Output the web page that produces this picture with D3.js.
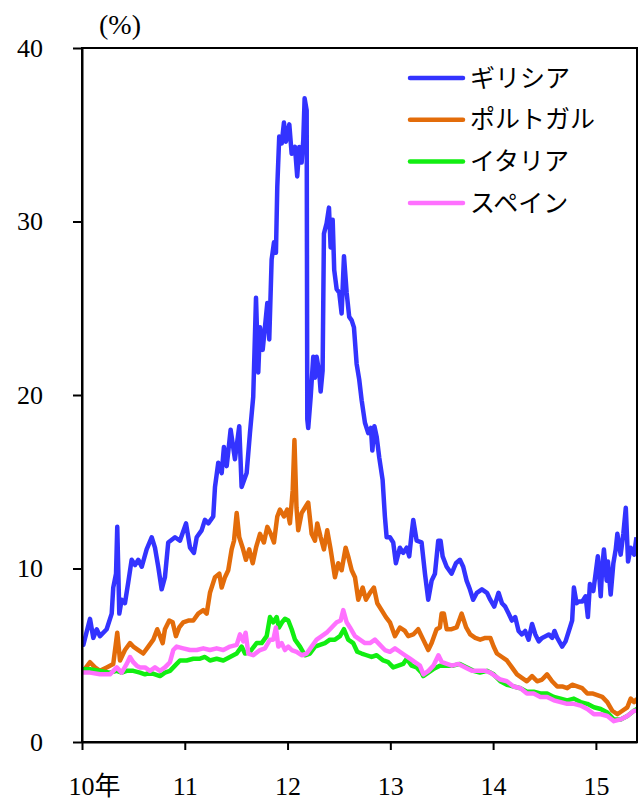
<!DOCTYPE html>
<html>
<head>
<meta charset="utf-8">
<script src="https://cdn.jsdelivr.net/npm/d3@7"></script>
<style>
  body { margin: 0; background: #fff; }
  text { font-family: "Liberation Serif", "Noto Sans CJK JP", serif; fill: #000; }
</style>
</head>
<body>
<div id="chart"></div>
<script>
// 10年国債利回り (%), decimal year / yield
const greece = [[2010.0,5.6],[2010.013,5.6],[2010.078,7.1],[2010.11,6.0],[2010.143,6.5],[2010.175,6.1],[2010.24,6.5],[2010.289,7.4],[2010.304,8.9],[2010.331,9.7],[2010.343,12.4],[2010.363,7.4],[2010.386,8.2],[2010.418,8.0],[2010.45,9.2],[2010.483,10.5],[2010.516,10.2],[2010.548,10.5],[2010.581,10.1],[2010.629,11.1],[2010.678,11.8],[2010.71,11.2],[2010.742,10.1],[2010.775,8.8],[2010.807,9.5],[2010.839,11.5],[2010.905,11.8],[2010.953,11.6],[2011.012,12.6],[2011.051,11.2],[2011.089,10.9],[2011.116,11.8],[2011.164,12.2],[2011.196,12.8],[2011.229,12.6],[2011.277,13.0],[2011.294,14.7],[2011.326,16.1],[2011.359,15.5],[2011.381,17.0],[2011.408,15.9],[2011.446,18.0],[2011.488,16.3],[2011.53,18.2],[2011.553,14.7],[2011.602,15.5],[2011.634,17.8],[2011.666,19.9],[2011.693,25.6],[2011.715,21.3],[2011.732,23.9],[2011.758,22.6],[2011.78,23.9],[2011.803,25.3],[2011.822,23.2],[2011.845,27.8],[2011.868,28.8],[2011.887,28.2],[2011.9,32.0],[2011.919,34.9],[2011.943,34.5],[2011.965,35.7],[2011.984,34.6],[2012.017,35.6],[2012.04,33.9],[2012.072,34.3],[2012.094,32.6],[2012.114,34.3],[2012.137,33.4],[2012.153,34.7],[2012.166,37.1],[2012.186,36.4],[2012.192,18.6],[2012.201,18.1],[2012.225,19.9],[2012.25,22.2],[2012.267,21.0],[2012.283,22.2],[2012.308,21.3],[2012.322,20.2],[2012.341,21.4],[2012.354,29.3],[2012.38,29.9],[2012.403,30.8],[2012.419,28.5],[2012.439,30.1],[2012.454,27.2],[2012.478,26.1],[2012.503,25.9],[2012.526,24.7],[2012.549,28.0],[2012.575,25.9],[2012.6,24.5],[2012.624,24.3],[2012.646,23.9],[2012.672,21.8],[2012.697,20.9],[2012.721,19.7],[2012.753,18.4],[2012.785,17.8],[2012.811,18.1],[2012.825,16.8],[2012.845,18.2],[2012.867,17.6],[2012.892,16.4],[2012.925,15.1],[2012.947,13.0],[2012.964,11.8],[2012.996,11.8],[2013.028,11.5],[2013.054,10.3],[2013.093,11.2],[2013.125,10.9],[2013.159,11.2],[2013.184,10.7],[2013.207,12.0],[2013.223,12.8],[2013.256,11.6],[2013.304,11.5],[2013.337,9.7],[2013.369,8.2],[2013.402,9.3],[2013.434,9.7],[2013.466,11.6],[2013.489,11.6],[2013.509,10.7],[2013.548,10.1],[2013.596,9.7],[2013.638,10.3],[2013.677,10.5],[2013.709,10.1],[2013.742,9.3],[2013.774,8.8],[2013.806,8.2],[2013.842,8.6],[2013.891,8.8],[2013.94,8.6],[2013.972,8.2],[2014.011,7.8],[2014.053,8.6],[2014.086,8.0],[2014.118,7.8],[2014.151,7.4],[2014.183,7.0],[2014.215,7.2],[2014.248,6.4],[2014.28,6.2],[2014.312,6.4],[2014.345,5.9],[2014.379,6.8],[2014.411,6.2],[2014.444,5.8],[2014.477,6.0],[2014.51,6.1],[2014.542,6.2],[2014.575,6.0],[2014.597,6.4],[2014.624,6.0],[2014.672,5.5],[2014.705,5.8],[2014.737,6.4],[2014.769,7.0],[2014.786,8.9],[2014.812,8.0],[2014.835,8.1],[2014.868,8.1],[2014.9,8.4],[2014.922,7.2],[2014.942,9.1],[2014.975,8.7],[2014.997,9.7],[2015.019,10.7],[2015.047,8.4],[2015.062,10.1],[2015.078,11.1],[2015.105,9.3],[2015.117,10.4],[2015.144,8.5],[2015.17,10.3],[2015.193,11.1],[2015.209,12.0],[2015.241,10.8],[2015.267,12.0],[2015.291,13.5],[2015.313,10.4],[2015.339,11.2],[2015.372,10.8],[2015.395,11.8]]

const portugal = [[2010.0,4.1],[2010.013,4.1],[2010.078,4.6],[2010.126,4.3],[2010.175,4.1],[2010.24,4.3],[2010.304,4.5],[2010.343,6.3],[2010.37,4.7],[2010.418,5.3],[2010.467,5.7],[2010.499,5.5],[2010.548,5.3],[2010.596,5.1],[2010.645,5.5],[2010.694,5.9],[2010.732,6.5],[2010.759,6.1],[2010.785,5.7],[2010.807,6.5],[2010.849,7.0],[2010.882,6.9],[2010.914,6.1],[2010.946,6.6],[2010.985,6.9],[2011.034,7.0],[2011.083,7.0],[2011.131,7.4],[2011.18,7.6],[2011.213,7.4],[2011.245,8.6],[2011.294,9.5],[2011.336,9.7],[2011.359,8.9],[2011.391,9.5],[2011.423,9.9],[2011.456,11.1],[2011.479,11.6],[2011.505,13.2],[2011.53,11.8],[2011.563,11.2],[2011.595,10.5],[2011.627,11.1],[2011.661,10.3],[2011.693,11.2],[2011.732,12.0],[2011.77,11.5],[2011.803,12.4],[2011.836,12.0],[2011.868,11.5],[2011.9,13.0],[2011.926,13.4],[2011.965,13.0],[2011.997,13.4],[2012.023,12.6],[2012.05,14.5],[2012.067,17.4],[2012.087,13.5],[2012.104,12.2],[2012.137,13.2],[2012.169,13.5],[2012.201,13.8],[2012.234,12.0],[2012.267,11.6],[2012.289,12.6],[2012.322,11.8],[2012.354,11.1],[2012.386,12.2],[2012.419,11.1],[2012.461,9.5],[2012.493,10.3],[2012.526,9.9],[2012.565,11.2],[2012.59,10.7],[2012.624,9.9],[2012.656,9.5],[2012.688,8.2],[2012.731,8.9],[2012.763,8.2],[2012.802,8.6],[2012.84,8.9],[2012.873,8.0],[2012.915,7.6],[2012.957,7.2],[2012.996,6.9],[2013.045,6.1],[2013.093,6.6],[2013.142,6.4],[2013.174,6.1],[2013.223,6.2],[2013.271,6.5],[2013.32,5.9],[2013.369,5.3],[2013.402,5.7],[2013.45,6.5],[2013.482,6.6],[2013.499,7.4],[2013.521,7.4],[2013.548,6.5],[2013.596,6.5],[2013.645,6.6],[2013.694,7.4],[2013.738,6.6],[2013.777,6.2],[2013.826,6.0],[2013.874,5.9],[2013.924,6.0],[2013.973,6.0],[2014.005,5.5],[2014.037,5.1],[2014.086,4.9],[2014.134,4.7],[2014.183,4.3],[2014.232,3.9],[2014.28,3.7],[2014.329,3.5],[2014.379,3.8],[2014.428,3.5],[2014.477,3.6],[2014.525,3.9],[2014.574,3.5],[2014.624,3.2],[2014.672,3.2],[2014.721,3.1],[2014.769,3.3],[2014.818,3.2],[2014.867,3.1],[2014.916,2.8],[2014.965,2.8],[2015.014,2.7],[2015.062,2.6],[2015.111,2.3],[2015.16,1.8],[2015.209,1.6],[2015.258,1.8],[2015.306,2.0],[2015.339,2.5],[2015.372,2.3],[2015.4,2.5]]

const italy = [[2010.0,4.2],[2010.078,4.2],[2010.175,4.1],[2010.272,4.0],[2010.338,4.1],[2010.386,4.0],[2010.435,4.1],[2010.499,4.1],[2010.564,4.0],[2010.613,3.9],[2010.661,4.0],[2010.71,3.9],[2010.759,3.8],[2010.807,4.0],[2010.856,4.1],[2010.905,4.4],[2010.953,4.7],[2011.018,4.7],[2011.083,4.8],[2011.148,4.8],[2011.196,4.9],[2011.245,4.7],[2011.31,4.8],[2011.375,4.7],[2011.44,4.9],[2011.505,5.1],[2011.553,5.5],[2011.586,5.1],[2011.634,5.2],[2011.699,5.7],[2011.748,5.7],[2011.797,6.1],[2011.829,7.2],[2011.861,6.9],[2011.894,7.2],[2011.916,6.6],[2011.946,6.9],[2011.975,7.1],[2012.007,7.0],[2012.04,6.5],[2012.072,5.9],[2012.121,5.5],[2012.169,5.0],[2012.218,5.1],[2012.267,5.5],[2012.315,5.6],[2012.364,5.7],[2012.412,5.9],[2012.461,5.9],[2012.51,6.1],[2012.549,6.5],[2012.59,5.9],[2012.639,5.7],[2012.678,5.2],[2012.721,5.1],[2012.769,5.0],[2012.818,4.9],[2012.867,5.0],[2012.931,4.7],[2012.98,4.6],[2013.028,4.3],[2013.077,4.4],[2013.125,4.5],[2013.159,4.8],[2013.207,4.4],[2013.256,4.3],[2013.304,4.0],[2013.32,3.8],[2013.369,4.0],[2013.418,4.2],[2013.482,4.4],[2013.548,4.4],[2013.612,4.4],[2013.677,4.5],[2013.745,4.3],[2013.809,4.1],[2013.872,4.0],[2013.94,4.1],[2014.005,3.9],[2014.07,3.5],[2014.134,3.3],[2014.2,3.2],[2014.266,3.1],[2014.329,2.9],[2014.395,2.9],[2014.46,2.8],[2014.525,2.8],[2014.591,2.6],[2014.656,2.5],[2014.721,2.4],[2014.786,2.5],[2014.851,2.3],[2014.916,2.2],[2014.981,2.0],[2015.047,1.9],[2015.112,1.7],[2015.175,1.3],[2015.241,1.3],[2015.306,1.5],[2015.37,1.8],[2015.4,1.9]]

const spain = [[2010.0,4.0],[2010.078,4.0],[2010.175,3.9],[2010.272,3.9],[2010.338,4.3],[2010.386,4.0],[2010.435,4.5],[2010.467,4.9],[2010.499,4.6],[2010.532,4.4],[2010.564,4.3],[2010.613,4.3],[2010.661,4.1],[2010.71,4.3],[2010.759,4.1],[2010.807,4.3],[2010.856,4.6],[2010.888,5.3],[2010.921,5.5],[2010.985,5.4],[2011.051,5.3],[2011.116,5.3],[2011.18,5.4],[2011.245,5.3],[2011.31,5.4],[2011.375,5.3],[2011.44,5.5],[2011.505,5.6],[2011.537,6.2],[2011.569,5.8],[2011.592,6.3],[2011.618,5.1],[2011.666,5.0],[2011.732,5.3],[2011.78,5.4],[2011.829,5.9],[2011.861,5.9],[2011.887,6.6],[2011.91,5.5],[2011.943,5.7],[2011.975,5.3],[2012.007,5.5],[2012.04,5.3],[2012.088,5.2],[2012.137,5.0],[2012.186,5.1],[2012.234,5.5],[2012.283,5.9],[2012.332,6.1],[2012.38,6.3],[2012.429,6.6],[2012.478,6.9],[2012.517,7.0],[2012.542,7.6],[2012.575,6.9],[2012.607,6.6],[2012.656,6.1],[2012.704,5.9],[2012.753,5.7],[2012.802,5.7],[2012.85,5.9],[2012.899,5.6],[2012.947,5.3],[2012.996,5.2],[2013.045,5.4],[2013.093,5.2],[2013.142,5.0],[2013.191,4.8],[2013.239,4.6],[2013.288,4.4],[2013.322,3.9],[2013.371,4.1],[2013.419,4.4],[2013.468,5.0],[2013.502,4.6],[2013.551,4.5],[2013.599,4.4],[2013.663,4.5],[2013.729,4.3],[2013.794,4.1],[2013.859,4.1],[2013.924,4.1],[2013.973,4.0],[2014.021,3.8],[2014.07,3.6],[2014.134,3.5],[2014.2,3.2],[2014.266,3.1],[2014.329,2.8],[2014.395,2.8],[2014.46,2.6],[2014.525,2.6],[2014.591,2.4],[2014.656,2.3],[2014.721,2.2],[2014.786,2.2],[2014.851,2.1],[2014.916,1.9],[2014.981,1.6],[2015.047,1.6],[2015.112,1.5],[2015.175,1.2],[2015.241,1.3],[2015.306,1.5],[2015.37,1.8],[2015.4,1.8]]

const seriesNames = ['ギリシア', 'ポルトガル', 'イタリア', 'スペイン']
const seriesColors = ['#3333ff', '#e36c0a', '#11ee11', '#ff70ff']
const yTicks = [0, 10, 20, 30, 40]
const xTicks = [2010, 2011, 2012, 2013, 2014, 2015]
const xTickLabels = ['10年', '11', '12', '13', '14', '15']

const width = 640
const height = 805
const margin = { top: 48, right: 3, bottom: 63, left: 82 }

const svg = d3.select('#chart')
  .append('svg')
  .attr('width', width)
  .attr('height', height)

const x = d3.scaleLinear()
  .domain([2010, 2015.4])
  .range([margin.left, width - margin.right])

const y = d3.scaleLinear()
  .domain([0, 40])
  .range([height - margin.bottom, margin.top])

svg.append('clipPath')
  .attr('id', 'plot')
  .append('rect')
  .attr('x', margin.left)
  .attr('y', margin.top)
  .attr('width', x.range()[1] - margin.left)
  .attr('height', y.range()[0] - margin.top)

// lines
const line = d3.line()
  .x(function (d) { return x(d[0]) })
  .y(function (d) { return y(d[1]) })

const allSeries = [greece, portugal, italy, spain]

svg.append('g')
  .attr('clip-path', 'url(#plot)')
  .selectAll('path')
  .data(allSeries)
  .enter()
  .append('path')
  .attr('d', line)
  .attr('fill', 'none')
  .attr('stroke', function (d, i) { return seriesColors[i] })
  .attr('stroke-width', 4.5)
  .attr('stroke-linejoin', 'round')

// frame
svg.append('rect')
  .attr('x', margin.left)
  .attr('y', margin.top)
  .attr('width', x.range()[1] - margin.left)
  .attr('height', y.range()[0] - margin.top)
  .attr('fill', 'none')
  .attr('stroke', '#000')
  .attr('stroke-width', 2)

// y axis
const yAxis = svg.append('g')
  .attr('transform', 'translate(' + margin.left + ',0)')
  .call(d3.axisLeft(y).tickValues(yTicks).tickSize(9).tickSizeOuter(0).tickPadding(30))
yAxis.select('.domain').attr('stroke-width', 2)
yAxis.selectAll('.tick line').attr('stroke-width', 2)
yAxis.selectAll('text').style('font-size', '26px').attr('fill', '#000')

// x axis
const xAxis = svg.append('g')
  .attr('transform', 'translate(0,' + y(0) + ')')
  .call(d3.axisBottom(x).tickValues(xTicks).tickSize(8).tickSizeOuter(0).tickPadding(27)
    .tickFormat(function (d, i) { return xTickLabels[i] }))
xAxis.select('.domain').attr('stroke-width', 2)
xAxis.selectAll('.tick line').attr('stroke-width', 2)
xAxis.selectAll('text').style('font-size', '26px').attr('fill', '#000')
xAxis.selectAll('text').filter(function (d, i) { return i === 0 })
  .attr('text-anchor', 'start')
  .attr('x', -14)

// unit label
svg.append('text')
  .attr('x', 120)
  .attr('y', 34)
  .attr('text-anchor', 'middle')
  .style('font-size', '28px')
  .text('(%)')

// legend
const legend = svg.append('g')
  .selectAll('g')
  .data(seriesNames)
  .enter()
  .append('g')
  .attr('transform', function (d, i) { return 'translate(410,' + (78 + i * 41.7) + ')' })

legend.append('line')
  .attr('x1', 0)
  .attr('x2', 53)
  .attr('stroke', function (d, i) { return seriesColors[i] })
  .attr('stroke-width', 4.5)
  .attr('stroke-linecap', 'round')

legend.append('text')
  .attr('x', 60)
  .attr('dy', '0.35em')
  .style('font-size', '25px')
  .text(function (d) { return d })
</script>
</body>
</html>
